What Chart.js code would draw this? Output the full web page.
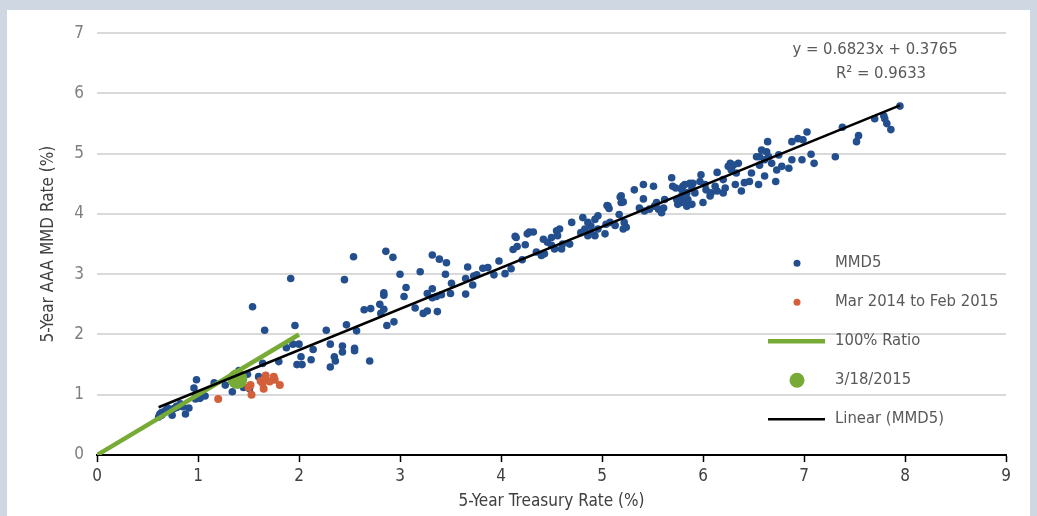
<!DOCTYPE html>
<html><head><meta charset="utf-8">
<script src="https://cdn.jsdelivr.net/npm/chart.js@4.4.1/dist/chart.umd.min.js"></script>
<style>
html,body{margin:0;padding:0;background:#cfd8e2;width:1037px;height:516px;overflow:hidden}
#wrap{position:absolute;left:7px;top:10px;width:1023px;height:506px;background:#fff}
</style></head><body><div id="wrap"><canvas id="c"></canvas></div>
<script>
const FONT = "'Liberation Sans Narrow','DejaVu Sans Condensed',sans-serif";

// MMD5 series (5-yr Treasury %, 5-yr AAA MMD %)
const mmdX = [0.61,0.63,0.62,0.645,0.68,0.695,0.73,0.744,0.744,0.76,0.787,0.79,0.826,0.826,0.876,0.91,0.975,0.975,1.02,1.025,1.07,0.96,0.985,1.16,1.27,1.34,1.405,1.49,1.51,1.60,1.64,1.80,1.875,1.94,2.0,2.02,1.98,2.03,2.12,2.14,1.54,1.66,1.918,1.96,2.27,0.70,0.85,0.64,1.36,1.45,
2.31,2.35,2.36,2.31,2.43,2.43,2.55,2.55,2.70,2.47,2.57,2.45,2.54,2.645,2.71,2.80,2.81,2.84,2.84,2.84,2.86,2.93,2.87,2.94,3.0,3.04,3.06,3.15,3.20,3.23,3.27,3.37,3.27,3.32,3.32,3.36,3.41,3.32,3.39,3.46,3.45,3.50,3.51,3.65,3.67,3.65,3.72,3.73,3.76,3.82,3.87,3.93,3.98,4.04,4.10,
4.12,4.16,4.15,4.24,4.26,4.21,4.14,4.28,4.32,4.35,4.40,4.43,4.42,4.46,4.50,4.55,4.56,4.58,4.61,4.60,4.53,4.50,4.70,4.68,4.81,4.86,4.89,4.93,4.96,4.83,4.79,4.89,4.86,4.93,4.96,
5.03,5.04,5.08,5.13,5.22,5.21,5.24,5.17,5.19,5.18,5.06,5.05,5.07,5.19,5.21,5.32,5.41,5.51,5.41,5.37,5.42,5.47,5.52,5.56,5.59,5.61,5.54,5.62,5.69,5.70,5.73,5.80,5.87,5.79,5.75,5.80,5.85,5.84,
6.14,6.20,6.22,6.14,6.12,6.08,6.03,6.02,5.98,5.97,5.90,5.89,5.92,5.82,5.84,5.79,5.74,5.79,5.89,6.00,6.07,6.20,
6.61,6.55,6.48,6.46,6.41,6.38,6.32,6.33,6.28,6.27,6.25,6.30,6.35,6.58,6.63,6.53,6.56,6.65,6.61,6.56,6.68,6.75,6.78,6.88,6.98,7.07,7.10,6.85,6.73,6.72,6.64,7.03,6.94,6.88,6.99,
7.31,7.38,7.54,7.52,7.70,7.79,7.80,7.82,7.86,7.95];
const mmdY = [0.63,0.69,0.67,0.71,0.74,0.73,0.74,0.75,0.66,0.77,0.81,0.79,0.85,0.82,0.68,0.78,0.93,0.98,0.94,0.97,0.98,1.11,1.25,1.20,1.16,1.05,1.40,1.34,1.10,1.30,1.52,1.55,1.78,1.84,1.84,1.63,1.50,1.50,1.58,1.75,2.46,2.07,2.93,2.15,2.07,0.78,0.80,0.66,1.30,1.12,
1.84,1.63,1.56,1.46,1.81,1.71,1.77,1.73,1.56,2.16,2.06,2.91,3.29,2.41,2.43,2.50,2.35,2.42,2.69,2.65,3.38,3.28,2.15,2.21,3.0,2.63,2.78,2.44,3.04,2.35,2.39,2.38,2.68,2.76,2.61,2.63,2.66,3.32,3.25,3.19,3.0,2.68,2.85,2.67,3.12,2.93,2.82,2.97,2.99,3.10,3.11,2.99,3.22,3.01,3.09,
3.41,3.46,3.61,3.49,3.67,3.24,3.63,3.70,3.70,3.37,3.31,3.34,3.58,3.53,3.61,3.72,3.64,3.75,3.50,3.42,3.42,3.48,3.86,3.50,3.94,3.86,3.80,3.91,3.97,3.75,3.69,3.69,3.64,3.64,3.75,
3.67,3.83,3.86,3.81,3.86,3.75,3.78,3.99,4.19,4.28,4.13,4.14,4.09,4.30,4.20,4.40,4.49,4.46,4.25,4.10,4.05,4.08,4.13,4.08,4.02,4.10,4.19,4.24,4.60,4.46,4.43,4.46,4.51,4.30,4.16,4.21,4.24,4.13,
4.69,4.57,4.43,4.38,4.46,4.35,4.40,4.49,4.65,4.54,4.51,4.43,4.35,4.49,4.35,4.40,4.24,4.19,4.16,4.19,4.30,4.35,
4.63,4.49,4.68,4.54,4.52,4.38,4.49,4.68,4.73,4.84,4.79,4.81,4.84,5.06,5.03,4.95,4.95,4.95,4.90,4.81,4.84,4.98,4.79,4.90,4.90,4.99,4.84,4.76,4.73,4.54,5.20,5.36,5.25,5.20,5.23,
4.95,5.44,5.30,5.20,5.58,5.63,5.58,5.50,5.40,5.79];

// Mar 2014 to Feb 2015
const recentX = [1.20,1.50,1.52,1.53,1.62,1.64,1.65,1.67,1.66,1.71,1.75,1.76,1.81];
const recentY = [0.93,1.12,1.16,1.00,1.23,1.19,1.10,1.32,1.27,1.22,1.30,1.25,1.16];

// 100% ratio line
const ratioX = [0, 2];
const ratioY = [0, 2];

// 3/18/2015
const latestX = [1.39];
const latestY = [1.26];

// Linear trend (MMD5)
const trendSlope = 0.6823;
const trendIntercept = 0.3765;
const trendR2 = 0.9633;
const trendX = [0.61, 7.95];

const xTicks = [0,1,2,3,4,5,6,7,8,9];
const yTicks = [0,1,2,3,4,5,6,7];

const pts = (xs, ys) => xs.map((x, i) => ({x, y: ys[i]}));

const BLUE = '#244f8f', RED = '#d4603b', GREEN = '#77ab36';

const legendPlugin = {
  id: 'insideLegend',
  afterDatasetsDraw(chart) {
    const {ctx, chartArea: a} = chart;
    ctx.save();
    ctx.font = '16.5px ' + FONT;
    ctx.textBaseline = 'middle';
    chart.data.datasets.forEach((ds, i) => {
      const y = a.top + 230 + i * 39;
      const mx = a.right - 209;
      if (ds.legendKind === 'line') {
        ctx.strokeStyle = ds.borderColor;
        ctx.lineWidth = ds.borderWidth;
        ctx.beginPath();
        ctx.moveTo(a.right - 238, y);
        ctx.lineTo(a.right - 181, y);
        ctx.stroke();
      } else {
        ctx.fillStyle = ds.backgroundColor;
        ctx.beginPath();
        ctx.arc(mx, y, ds.legendRadius, 0, Math.PI * 2);
        ctx.fill();
      }
      ctx.fillStyle = '#595959';
      ctx.textAlign = 'left';
      ctx.fillText(ds.label, a.right - 171, y);
    });
    ctx.textAlign = 'center';
    ctx.fillStyle = '#595959';
    ctx.fillText('y = ' + trendSlope.toFixed(4) + 'x + ' + trendIntercept.toFixed(4), a.right - 131, a.top + 17);
    ctx.fillText('R\u00B2 = ' + trendR2.toFixed(4), a.right - 125, a.top + 41);
    ctx.restore();
  }
};

new Chart(document.getElementById('c'), {
  type: 'scatter',
  data: {
    datasets: [
      {label: 'MMD5', data: pts(mmdX, mmdY), backgroundColor: BLUE, borderColor: BLUE,
       pointRadius: 3.8, borderWidth: 0, order: 5, legendRadius: 3.5},
      {label: 'Mar 2014 to Feb 2015', data: pts(recentX, recentY), backgroundColor: RED, borderColor: RED,
       pointRadius: 4, borderWidth: 0, order: 4, legendRadius: 3.5},
      {label: '100% Ratio', type: 'line', data: pts(ratioX, ratioY), borderColor: GREEN, backgroundColor: GREEN,
       borderWidth: 4.5, pointRadius: 0, showLine: true, fill: false, order: 3, legendKind: 'line'},
      {label: '3/18/2015', data: pts(latestX, latestY), backgroundColor: GREEN, borderColor: GREEN,
       pointRadius: 10, borderWidth: 0, order: 2, legendRadius: 7.5},
      {label: 'Linear (MMD5)', type: 'line', data: trendX.map(x => ({x, y: trendSlope * x + trendIntercept})),
       borderColor: '#000', backgroundColor: '#000', borderWidth: 2.5, pointRadius: 0, showLine: true,
       fill: false, order: 1, legendKind: 'line'}
    ]
  },
  options: {
    responsive: true, maintainAspectRatio: false, animation: false, devicePixelRatio: 1,
    layout: {padding: {left: 0, right: 24, top: 18, bottom: 0}},
    plugins: {legend: {display: false}, tooltip: {enabled: false}},
    events: [],
    scales: {
      x: {
        type: 'linear', min: 0, max: 9,
        afterBuildTicks: s => { s.ticks = xTicks.map(v => ({value: v})); },
        afterFit: s => { s.height = 61; },
        ticks: {font: {family: FONT, size: 17}, color: '#404040', padding: 4},
        grid: {drawOnChartArea: false, drawTicks: true, tickLength: 7, tickColor: '#000', tickWidth: 1.5},
        border: {display: true, color: '#000', width: 2},
        title: {display: true, text: '5-Year Treasury Rate (%)', font: {family: FONT, size: 17}, color: '#404040', padding: {top: 0, bottom: 4}}
      },
      y: {
        type: 'linear', min: 0, max: 7,
        afterBuildTicks: s => { s.ticks = yTicks.map(v => ({value: v})); },
        afterFit: s => { s.width = 90; },
        ticks: {font: {family: FONT, size: 17}, color: '#7f7f7f', padding: 13},
        grid: {color: '#d9d9d9', lineWidth: 2, drawTicks: false},
        border: {display: false},
        title: {display: true, text: '5-Year AAA MMD Rate (%)', font: {family: FONT, size: 17}, color: '#404040', padding: {top: 31, bottom: 0}}
      }
    }
  },
  plugins: [legendPlugin]
});
</script></body></html>
